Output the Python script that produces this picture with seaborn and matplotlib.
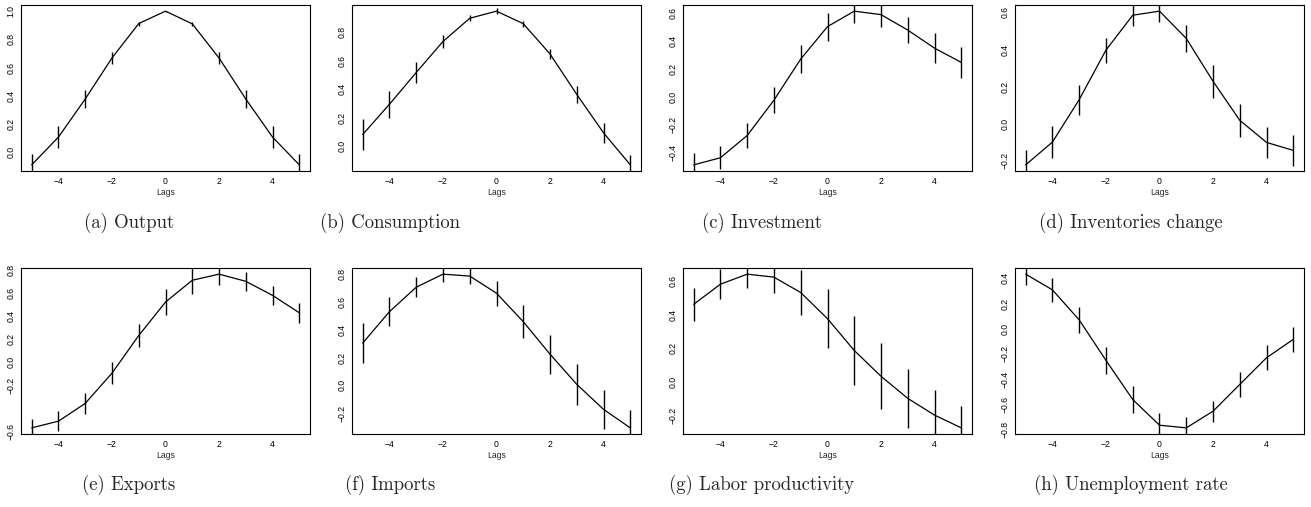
import pandas as pd
import seaborn as sns
import matplotlib.pyplot as plt
from matplotlib.ticker import MultipleLocator, FuncFormatter

# cross-correlations with the output, lags -5..5
lags = list(range(-5, 6))

output_ccf = [-0.09, 0.107, 0.377, 0.668, 0.912, 1.0, 0.91, 0.668, 0.377, 0.107, -0.09]
output_err = [0.074, 0.078, 0.066, 0.042, 0.014, 0.003, 0.014, 0.042, 0.066, 0.078, 0.074]

cons_ccf = [0.08, 0.293, 0.516, 0.734, 0.897, 0.947, 0.859, 0.646, 0.362, 0.092, -0.133]
cons_err = [0.11, 0.096, 0.072, 0.045, 0.022, 0.019, 0.022, 0.033, 0.058, 0.069, 0.071]

inv_ccf = [-0.489, -0.438, -0.278, -0.024, 0.271, 0.504, 0.615, 0.59, 0.479, 0.349, 0.247]
inv_err = [0.085, 0.081, 0.088, 0.096, 0.099, 0.1, 0.085, 0.092, 0.095, 0.11, 0.114]

invch_ccf = [-0.222, -0.099, 0.13, 0.397, 0.585, 0.607, 0.46, 0.229, 0.018, -0.101, -0.144]
invch_err = [0.078, 0.086, 0.081, 0.067, 0.056, 0.061, 0.073, 0.088, 0.09, 0.085, 0.082]

exp_ccf = [-0.567, -0.509, -0.355, -0.093, 0.233, 0.523, 0.712, 0.765, 0.703, 0.581, 0.43]
exp_err = [0.081, 0.084, 0.09, 0.097, 0.102, 0.116, 0.116, 0.096, 0.083, 0.08, 0.087]

imp_ccf = [0.304, 0.53, 0.706, 0.8, 0.786, 0.663, 0.458, 0.224, 0.007, -0.173, -0.306]
imp_err = [0.145, 0.106, 0.07, 0.06, 0.06, 0.089, 0.12, 0.141, 0.145, 0.14, 0.13]

lp_ccf = [0.462, 0.582, 0.642, 0.624, 0.532, 0.376, 0.186, 0.032, -0.1, -0.2, -0.276]
lp_err = [0.1, 0.09, 0.08, 0.094, 0.132, 0.178, 0.205, 0.198, 0.177, 0.152, 0.128]

unemp_ccf = [0.433, 0.308, 0.069, -0.252, -0.563, -0.767, -0.788, -0.656, -0.443, -0.231, -0.085]
unemp_err = [0.088, 0.096, 0.106, 0.11, 0.106, 0.098, 0.085, 0.085, 0.098, 0.1, 0.1]

captions = ["(a) Output", "(b) Consumption", "(c) Investment", "(d) Inventories change",
            "(e) Exports", "(f) Imports", "(g) Labor productivity", "(h) Unemployment rate"]
series = [(output_ccf, output_err), (cons_ccf, cons_err), (inv_ccf, inv_err),
          (invch_ccf, invch_err), (exp_ccf, exp_err), (imp_ccf, imp_err),
          (lp_ccf, lp_err), (unemp_ccf, unemp_err)]
# y labels R dropped because they would overlap
hidden_labels = {4: [-0.4]}

sns.set_style("white")
plt.rcParams["font.family"] = ["Liberation Sans", "DejaVu Sans"]

W, H = 1311, 507
fig = plt.figure(figsize=(W / 100, H / 100), dpi=100)

col_left = [21, 352, 683, 1015]
row_top = [5, 268]
ax_w, ax_h = 289, 166
cap_x = [129, 390, 762, 1131]
cap_y = [223, 485]


def fmt(v):
    s = "%.1f" % v
    if s == "-0.0":
        s = "0.0"
    return s.replace("-", "\u2212")


for i, (cap, (ccf, err)) in enumerate(zip(captions, series)):
    r, c = divmod(i, 4)
    ax = fig.add_axes([col_left[c] / W, 1 - (row_top[r] + ax_h) / H, ax_w / W, ax_h / H])
    df = pd.DataFrame({"lag": lags, "ccf": ccf, "err": err})
    sns.lineplot(data=df, x="lag", y="ccf", ax=ax, color="black", lw=0.9)
    ax.vlines(df["lag"], df["ccf"] - df["err"], df["ccf"] + df["err"], color="black", lw=1.0)

    # R style limits: data range + 4%
    lo, hi = min(ccf), max(ccf)
    pad = 0.04 * (hi - lo)
    ax.set_ylim(lo - pad, hi + pad)
    ax.set_xlim(-5.4, 5.4)

    ax.set_xticks([-4, -2, 0, 2, 4])
    ax.xaxis.set_major_formatter(FuncFormatter(lambda v, p: ("%d" % v).replace("-", "\u2212")))
    ax.yaxis.set_major_locator(MultipleLocator(0.2))
    hide = hidden_labels.get(i, [])
    ax.yaxis.set_major_formatter(FuncFormatter(
        lambda v, p, hide=hide: "" if any(abs(v - h) < 1e-6 for h in hide) else fmt(v)))

    ax.tick_params(direction="out", length=3, width=0.8, labelsize=6.2, pad=1, colors="black")
    ax.tick_params(axis="y", labelrotation=90)
    for lab in ax.get_yticklabels():
        lab.set_va("center")
    for sp in ax.spines.values():
        sp.set_visible(True)
        sp.set_color("black")
        sp.set_linewidth(0.8)
    ax.set_xlabel("Lags", fontsize=6.2, labelpad=1.5)
    ax.set_ylabel("")

    fig.text(cap_x[c] / W, 1 - cap_y[r] / H, cap, family="cmr10", fontsize=13.5,
             ha="center", va="center")

fig.savefig("out.png", dpi=100)
